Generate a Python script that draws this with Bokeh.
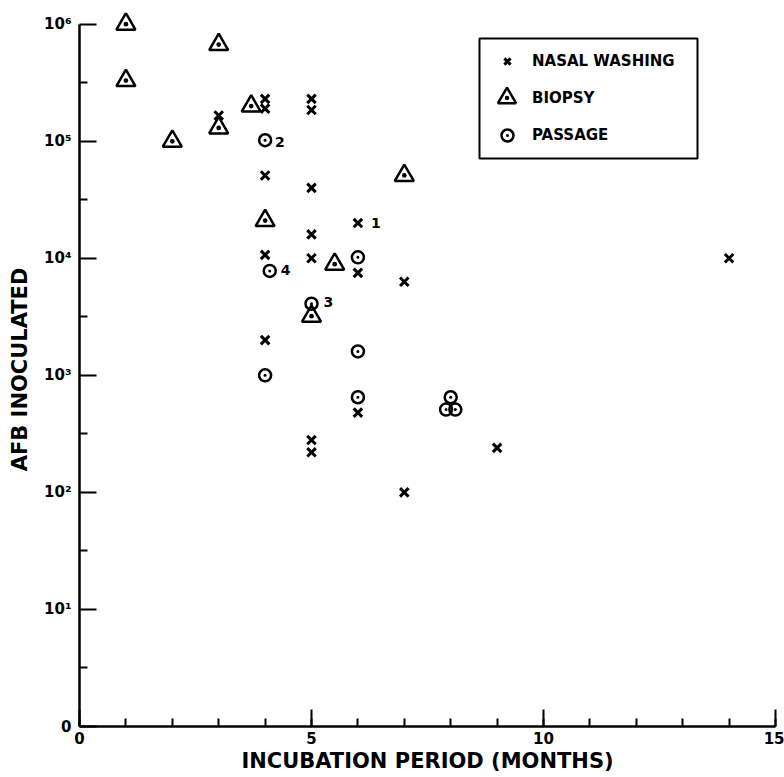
from bokeh.plotting import figure
from bokeh.models import (Range1d, FixedTicker, Legend, LegendItem, BoxAnnotation,
                          ColumnDataSource)
from bokeh.embed import file_html
from bokeh.resources import INLINE
from bokeh.core.properties import value

# ---- data ----
nasal_months = [3, 4, 4, 5, 5, 4, 5, 6, 5, 4, 5, 6, 7, 4, 6, 5, 5, 9, 7, 14]
nasal_afb = [1.66e5, 2.3e5, 1.9e5, 2.3e5, 1.85e5, 5.1e4, 4.0e4, 2.0e4, 1.6e4, 1.07e4,
             1.0e4, 7.5e3, 6.3e3, 2.0e3, 4.8e2, 2.8e2, 2.2e2, 2.4e2, 1.0e2, 1.0e4]

biopsy_months = [1, 1, 2, 3, 3, 3.7, 4, 5.5, 5, 7]
biopsy_afb = [1.0e6, 3.3e5, 1.0e5, 6.7e5, 1.3e5, 2.0e5, 2.1e4, 8.9e3, 3.2e3, 5.1e4]

passage_months = [4, 4.1, 6, 5, 6, 4, 6, 8, 7.9, 8.1]
passage_afb = [1.02e5, 7.8e3, 1.02e4, 4.1e3, 1.6e3, 1.0e3, 6.5e2, 6.5e2, 5.1e2, 5.1e2]

note_months = [6, 4, 5, 4.1]
note_afb = [2.0e4, 1.02e5, 4.1e3, 7.8e3]
note_labels = ["1", "2", "3", "4"]

x_ticks = [0, 5, 10, 15]
x_minor = list(range(0, 16))
y_ticks = [1, 10, 100, 1000, 10000, 100000, 1000000]
y_tick_labels = ["0", "10\u00b9", "10\u00b2", "10\u00b3", "10\u2074", "10\u2075", "10\u2076"]
y_minor = [10 ** (k + 0.5) for k in range(6)]

series_names = ["NASAL WASHING", "BIOPSY", "PASSAGE"]

FONT = "DejaVu Sans"

p = figure(width=784, height=777, y_axis_type="log",
           x_range=Range1d(0, 15), y_range=Range1d(1, 10 ** 6.1),
           output_backend="svg", toolbar_location=None,
           min_border_left=79, min_border_right=9, min_border_top=12, min_border_bottom=51)
p.outline_line_color = None
p.xgrid.visible = False
p.ygrid.visible = False
p.background_fill_color = "white"

for ax in (p.xaxis[0], p.yaxis[0]):
    ax.axis_line_width = 2.5
    ax.axis_line_color = "black"
    ax.major_tick_in = 17
    ax.major_tick_out = 0
    ax.minor_tick_in = 8
    ax.minor_tick_out = 0
    ax.major_tick_line_width = 2
    ax.minor_tick_line_width = 2
    ax.major_tick_line_color = "black"
    ax.minor_tick_line_color = "black"
    ax.major_label_text_font = FONT
    ax.major_label_text_font_size = "15px"
    ax.major_label_text_font_style = "bold"
    ax.major_label_text_color = "black"
    ax.axis_label_text_font = FONT
    ax.axis_label_text_font_size = "21px"
    ax.axis_label_text_font_style = "bold"
    ax.axis_label_text_color = "black"

p.xaxis.bounds = (0, 15)
p.xaxis.ticker = FixedTicker(ticks=x_ticks, minor_ticks=x_minor)
p.xaxis.major_label_standoff = 5
p.xaxis.axis_label_standoff = 2
p.xaxis.axis_label = "INCUBATION PERIOD (MONTHS)"

p.yaxis.bounds = (1, 1000000)
p.yaxis.ticker = FixedTicker(ticks=y_ticks, minor_ticks=y_minor)
p.yaxis.major_label_overrides = dict(zip(y_ticks, y_tick_labels))
p.yaxis.major_label_standoff = 8
p.yaxis.axis_label_standoff = 9
p.yaxis.axis_label = "AFB INOCULATED"

r_x = p.scatter(nasal_months, nasal_afb, marker="x", size=12, line_width=3,
                line_color="black")
r_tri = p.scatter(biopsy_months, biopsy_afb, marker="triangle_dot", size=19,
                  line_width=2.5, line_color="black", fill_color=None)
r_circ = p.scatter(passage_months, passage_afb, marker="circle_dot", size=12,
                   line_width=2.5, line_color="black", fill_color=None)

notes = ColumnDataSource(dict(x=note_months, y=note_afb, t=note_labels,
                              dx=[13, 10, 12, 11], dy=[0, 2, -2, -1]))
p.text(x="x", y="y", text="t", x_offset="dx", y_offset="dy", source=notes,
       text_font=value(FONT), text_font_size="14px", text_font_style="bold",
       text_color="black", text_align="left", text_baseline="middle")

# legend box (screen units are relative to the plot frame)
box = BoxAnnotation(left=400, right=618, top=688, bottom=568,
                    left_units="screen", right_units="screen",
                    top_units="screen", bottom_units="screen",
                    fill_color="white", fill_alpha=1.0,
                    line_color="black", line_width=2, line_alpha=1.0)
p.add_layout(box)

leg_specs = [
    (series_names[0], r_x, (413, 654), 30, 22, 10),
    (series_names[1], r_tri, (405, 606), 45, 45, 3),
    (series_names[2], r_circ, (413, 576), 30, 30, 10),
]
for name, rend, loc, gw, gh, so in leg_specs:
    leg = Legend(items=[LegendItem(label=name, renderers=[rend])], location=loc,
                 glyph_width=gw, glyph_height=gh, label_standoff=so,
                 padding=0, spacing=0, margin=0,
                 border_line_color=None, background_fill_alpha=0,
                 label_text_font=FONT, label_text_font_size="15px",
                 label_text_font_style="bold", label_text_color="black")
    p.add_layout(leg, "center")

open("out.html", "w").write(file_html(p, INLINE))
